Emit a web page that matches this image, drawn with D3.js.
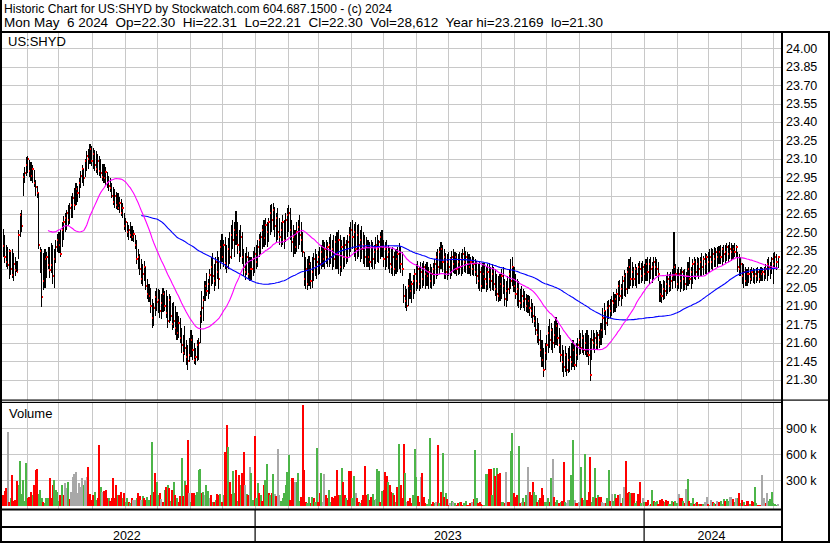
<!DOCTYPE html>
<html><head><meta charset="utf-8">
<script src="https://cdn.jsdelivr.net/npm/d3@7"></script>
<style>
html,body{margin:0;padding:0;background:#fff;}
svg{display:block;font-family:"Liberation Sans",Arial,sans-serif;}
text{white-space:pre;}
</style></head><body>
<svg id="c" width="830" height="543"></svg>
<script>
const titleLine = "Historic Chart for US:SHYD by Stockwatch.com 604.687.1500 - (c) 2024";
const infoLine = "Mon May  6 2024  Op=22.30  Hi=22.31  Lo=22.21  Cl=22.30  Vol=28,612  Year hi=23.2169  lo=21.30";
const symbol = "US:SHYD";
const priceTicks = [24.00,23.85,23.70,23.55,23.40,23.25,23.10,22.95,22.80,22.65,22.50,22.35,22.20,22.05,21.90,21.75,21.60,21.45,21.30];
const volTicks = [300,600,900];
const volTickLabels = ["300 k","600 k","900 k"];
const years = ["2022","2023","2024"];
const yearStarts = ["2023-01-01","2024-01-01"];
const firstMonth = "2022-06-01", lastMonth = "2024-05-01";

// daily bars, May 2022 .. May 6 2024
const high = [
22.53,22.48,22.40,22.38,22.36, 22.34,22.36,22.33,22.30,22.27, 22.52,22.66,22.68,22.98,23.03, 23.11,23.12,23.09,23.07,23.05,
23.01,22.93,22.88,22.82,22.38, 22.36,22.33,22.36,22.34,22.38, 22.38,22.41,22.40,22.36,22.44, 22.49,22.50,22.52,22.58,22.63,
22.66,22.68,22.72,22.74,22.80, 22.82,22.86,22.90,22.88,22.94, 23.00,23.05,23.02,23.10,23.16, 23.18,23.22,23.20,23.19,23.17,
23.16,23.14,23.12,23.10,23.06, 23.06,23.03,22.99,22.96,22.94, 22.90,22.87,22.85,22.83,22.82, 22.79,22.77,22.74,22.66,22.62,
22.58,22.56,22.58,22.55,22.52, 22.48,22.44,22.36,22.32,22.28, 22.24,22.27,22.22,22.12,22.08, 22.05,21.96,21.92,22.02,22.05,
22.04,22.03,22.00,22.05,22.02, 22.03,21.98,22.00,21.98,21.92, 21.93,21.90,21.85,21.82,21.80, 21.72,21.66,21.74,21.62,21.58,
21.64,21.70,21.66,21.60,21.56, 21.62,21.64,21.86,22.02,21.98, 22.10,22.17,22.12,22.20,22.30, 22.33,22.24,22.30,22.35,22.30,
22.44,22.49,22.44,22.46,22.40, 22.45,22.50,22.56,22.60,22.58, 22.67,22.58,22.52,22.56,22.50, 22.36,22.33,22.38,22.34,22.30,
22.30,22.35,22.38,22.40,22.44, 22.49,22.50,22.56,22.60,22.62, 22.58,22.62,22.72,22.73,22.74, 22.71,22.66,22.70,22.62,22.58,
22.64,22.60,22.66,22.70,22.72, 22.70,22.60,22.56,22.52,22.58, 22.60,22.64,22.58,22.50,22.34, 22.30,22.28,22.31,22.26,22.30,
22.33,22.36,22.32,22.35,22.38, 22.40,22.44,22.42,22.44,22.42, 22.46,22.49,22.44,22.48,22.47, 22.50,22.52,22.48,22.44,22.46,
22.46,22.44,22.48,22.54,22.58, 22.60,22.57,22.58,22.56,22.57, 22.52,22.55,22.50,22.48,22.46, 22.44,22.42,22.44,22.42,22.40,
22.46,22.48,22.44,22.50,22.52, 22.44,22.42,22.44,22.40,22.38, 22.36,22.38,22.34,22.36,22.38, 22.41,22.38,22.34,22.08,22.06,
22.04,22.12,22.17,22.10,22.15, 22.20,22.24,22.27,22.22,22.26, 22.25,22.27,22.24,22.26,22.22, 22.24,22.22,22.25,22.28,22.34,
22.36,22.38,22.42,22.40,22.36, 22.33,22.32,22.34,22.30,22.35, 22.36,22.34,22.33,22.32,22.34, 22.33,22.36,22.38,22.35,22.34,
22.32,22.30,22.31,22.30,22.28, 22.27,22.24,22.26,22.22,22.25, 22.25,22.22,22.24,22.25,22.22, 22.24,22.22,22.20,22.16,22.14,
22.16,22.20,22.22,22.12,22.10, 22.14,22.20,22.28,22.30,22.22, 22.16,22.12,22.10,22.04,22.06, 22.04,22.02,22.00,21.99,21.98,
21.96,21.92,21.90,21.82,21.80, 21.76,21.70,21.62,21.56,21.60, 21.66,21.74,21.79,21.76,21.72, 21.78,21.81,21.76,21.72,21.66,
21.58,21.54,21.57,21.52,21.56, 21.57,21.60,21.62,21.58,21.60, 21.64,21.70,21.68,21.70,21.66, 21.68,21.70,21.66,21.64,21.70,
21.70,21.68,21.70,21.69,21.70, 21.76,21.88,21.92,21.86,21.94, 21.95,21.96,21.98,22.01,22.00, 22.04,22.10,22.11,22.08,22.14,
22.19,22.17,22.22,22.28,22.30, 22.26,22.22,22.24,22.22,22.25, 22.27,22.25,22.27,22.24,22.28, 22.30,22.28,22.30,22.26,22.30,
22.30,22.28,22.26,22.10,22.08, 22.11,22.10,22.14,22.18,22.16, 22.18,22.20,22.50,22.24,22.20, 22.22,22.20,22.22,22.19,22.20,
22.18,22.26,22.30,22.22,22.28, 22.30,22.28,22.30,22.29,22.30, 22.33,22.31,22.33,22.32,22.34, 22.36,22.37,22.36,22.38,22.37,
22.38,22.39,22.40,22.38,22.40, 22.40,22.41,22.40,22.42,22.41, 22.40,22.41,22.40,22.34,22.32, 22.30,22.25,22.24,22.22,22.20,
22.22,22.20,22.22,22.21,22.20, 22.21,22.22,22.20,22.22,22.21, 22.22,22.24,22.28,22.30,22.26, 22.30,22.33,22.34,22.32,22.31];
const low = [
22.30,22.25,22.22,22.20,22.12, 22.15,22.13,22.10,22.14,22.18, 22.28,22.46,22.50,22.80,22.90, 22.96,22.98,22.95,22.92,22.90,
22.87,22.80,22.78,22.36,22.17, 21.89,22.03,22.05,22.13,22.20, 22.13,22.17,22.08,22.05,22.25, 22.34,22.33,22.30,22.38,22.44,
22.50,22.52,22.55,22.57,22.62, 22.62,22.68,22.72,22.75,22.78, 22.86,22.90,22.88,22.95,23.00, 23.02,23.06,23.04,23.02,23.00,
22.98,22.97,22.96,22.94,22.92, 22.90,22.88,22.86,22.84,22.83, 22.78,22.72,22.70,22.69,22.68, 22.66,22.63,22.62,22.52,22.50,
22.46,22.44,22.45,22.43,22.42, 22.36,22.24,22.20,22.15,22.08, 22.06,22.10,22.03,21.96,21.93, 21.84,21.72,21.74,21.82,21.86,
21.84,21.80,21.79,21.85,21.86, 21.80,21.72,21.76,21.78,21.70, 21.72,21.66,21.62,21.64,21.60, 21.52,21.44,21.50,21.42,21.38,
21.44,21.48,21.46,21.43,21.42, 21.45,21.46,21.60,21.76,21.78, 21.94,21.98,21.96,22.00,22.06, 22.08,22.02,22.06,22.12,22.04,
22.20,22.26,22.22,22.20,22.17, 22.20,22.24,22.28,22.36,22.30, 22.40,22.32,22.26,22.30,22.24, 22.14,22.11,22.15,22.12,22.10,
22.11,22.14,22.17,22.20,22.22, 22.30,22.32,22.36,22.38,22.40, 22.38,22.42,22.48,22.50,22.52, 22.46,22.42,22.44,22.40,22.38,
22.40,22.36,22.42,22.46,22.50, 22.44,22.34,22.30,22.32,22.34, 22.36,22.40,22.34,22.30,22.06, 22.04,22.03,22.06,22.04,22.05,
22.10,22.14,22.12,22.15,22.16, 22.20,22.22,22.20,22.24,22.22, 22.22,22.24,22.19,22.22,22.20, 22.20,22.16,22.14,22.18,22.20,
22.22,22.24,22.26,22.30,22.34, 22.36,22.30,22.27,22.28,22.30, 22.26,22.28,22.24,22.22,22.22, 22.22,22.19,22.22,22.20,22.20,
22.24,22.26,22.25,22.28,22.30, 22.22,22.19,22.22,22.20,22.17, 22.16,22.14,22.14,22.16,22.18, 22.20,22.17,22.14,21.92,21.88,
21.86,21.90,21.96,21.92,21.96, 22.00,22.02,22.04,22.02,22.04, 22.05,22.06,22.04,22.06,22.04, 22.05,22.04,22.06,22.08,22.12,
22.14,22.16,22.20,22.18,22.12, 22.12,22.11,22.14,22.12,22.14, 22.17,22.16,22.14,22.15,22.16, 22.14,22.16,22.18,22.17,22.16,
22.16,22.14,22.15,22.14,22.14, 22.08,22.04,22.02,22.01,22.04, 22.04,22.01,22.03,22.05,22.02, 22.03,22.02,21.98,21.94,21.93,
21.94,21.96,22.00,21.90,21.89, 21.94,22.00,22.04,22.06,22.01, 21.96,21.90,21.88,21.87,21.88, 21.88,21.86,21.85,21.84,21.82,
21.80,21.76,21.73,21.66,21.60, 21.58,21.48,21.40,21.32,21.38, 21.46,21.52,21.56,21.54,21.52, 21.56,21.58,21.57,21.52,21.44,
21.36,21.32,21.36,21.33,21.35, 21.36,21.38,21.40,21.38,21.40, 21.46,21.50,21.51,21.52,21.50, 21.50,21.48,21.42,21.29,21.46,
21.54,21.52,21.55,21.54,21.56, 21.58,21.64,21.70,21.66,21.74, 21.79,21.80,21.82,21.84,21.85, 21.88,21.90,21.94,21.90,21.96,
21.98,21.97,22.00,22.04,22.06, 22.05,22.06,22.06,22.05,22.08, 22.08,22.09,22.10,22.08,22.10, 22.10,22.08,22.12,22.09,22.12,
22.14,22.14,22.10,21.93,21.92, 21.95,21.96,21.98,22.00,22.01, 22.02,22.04,22.10,22.05,22.02, 22.04,22.01,22.04,22.02,22.03,
22.03,22.06,22.08,22.04,22.08, 22.12,22.11,22.14,22.12,22.14, 22.14,22.15,22.16,22.15,22.17, 22.18,22.20,22.19,22.22,22.22,
22.22,22.24,22.24,22.23,22.26, 22.25,22.27,22.26,22.28,22.27, 22.28,22.30,22.29,22.18,22.14, 22.14,22.08,22.05,22.06,22.06,
22.09,22.08,22.10,22.09,22.08, 22.09,22.10,22.09,22.10,22.10, 22.10,22.12,22.10,22.14,22.12, 22.16,22.08,22.20,22.19,22.21];
const close = [
22.39,22.30,22.26,22.23,22.35, 22.20,22.15,22.24,22.19,22.18, 22.48,22.64,22.55,22.95,22.98, 23.05,23.10,23.00,22.96,23.02,
22.90,22.87,22.82,22.40,22.35, 21.97,22.10,22.28,22.30,22.23, 22.19,22.23,22.14,22.28,22.38, 22.44,22.40,22.32,22.52,22.58,
22.62,22.66,22.60,22.70,22.72, 22.78,22.72,22.85,22.82,22.90, 22.96,23.02,22.94,23.08,23.12, 23.10,23.18,23.08,23.14,23.05,
23.02,23.08,23.00,22.98,22.95, 22.94,22.99,22.90,22.88,22.86, 22.80,22.75,22.80,22.72,22.70, 22.74,22.66,22.70,22.55,22.58,
22.50,22.52,22.48,22.46,22.49, 22.40,22.28,22.30,22.20,22.12, 22.16,22.22,22.06,22.00,21.98, 21.90,21.80,21.88,21.97,21.93,
21.95,21.86,21.92,22.00,21.90, 21.84,21.78,21.95,21.82,21.75, 21.78,21.72,21.68,21.76,21.64, 21.58,21.52,21.56,21.48,21.45,
21.50,21.62,21.54,21.46,21.48, 21.58,21.60,21.82,21.88,21.95, 22.06,22.02,22.08,22.15,22.22, 22.14,22.10,22.26,22.18,22.12,
22.38,22.30,22.40,22.25,22.22, 22.36,22.30,22.48,22.44,22.52, 22.48,22.40,22.34,22.46,22.30, 22.22,22.18,22.30,22.16,22.20,
22.20,22.28,22.32,22.26,22.38, 22.44,22.46,22.52,22.45,22.56, 22.50,22.58,22.66,22.60,22.68, 22.55,22.62,22.50,22.46,22.52,
22.58,22.44,22.60,22.64,22.66, 22.52,22.42,22.46,22.38,22.50, 22.54,22.48,22.44,22.34,22.12, 22.20,22.08,22.24,22.10,22.18,
22.28,22.22,22.26,22.30,22.24, 22.34,22.28,22.36,22.30,22.38, 22.40,22.30,22.36,22.28,22.42, 22.32,22.44,22.22,22.38,22.30,
22.40,22.30,22.42,22.48,22.52, 22.46,22.50,22.36,22.48,22.40, 22.44,22.36,22.40,22.30,22.38, 22.30,22.26,22.38,22.28,22.34,
22.40,22.36,22.42,22.46,22.38, 22.28,22.36,22.30,22.34,22.24, 22.22,22.30,22.20,22.28,22.32, 22.34,22.24,22.20,21.98,21.94,
21.90,22.06,22.02,22.08,22.10, 22.16,22.10,22.20,22.08,22.18, 22.12,22.22,22.16,22.14,22.18, 22.10,22.16,22.20,22.24,22.30,
22.22,22.34,22.36,22.26,22.30, 22.18,22.26,22.22,22.28,22.30, 22.24,22.30,22.20,22.26,22.22, 22.28,22.32,22.26,22.30,22.24,
22.22,22.26,22.20,22.24,22.18, 22.14,22.10,22.18,22.06,22.16, 22.12,22.08,22.18,22.12,22.10, 22.16,22.08,22.04,22.00,21.98,
22.08,22.14,22.06,21.96,22.02, 22.04,22.16,22.10,22.22,22.06, 22.00,22.04,21.94,21.92,21.98, 21.94,21.96,21.90,21.94,21.88,
21.86,21.82,21.78,21.70,21.66, 21.62,21.54,21.46,21.38,21.52, 21.58,21.68,21.62,21.70,21.60, 21.66,21.74,21.64,21.58,21.50,
21.44,21.40,21.50,21.38,21.46, 21.48,21.44,21.54,21.42,21.50, 21.58,21.62,21.56,21.64,21.54, 21.60,21.52,21.50,21.34,21.62,
21.60,21.64,21.58,21.66,21.62, 21.70,21.80,21.86,21.76,21.88, 21.90,21.86,21.94,21.92,21.96, 22.00,22.06,21.98,22.04,22.10,
22.14,22.04,22.18,22.22,22.12, 22.18,22.12,22.20,22.16,22.22, 22.20,22.14,22.22,22.16,22.24, 22.18,22.24,22.20,22.22,22.26,
22.22,22.20,22.16,22.00,21.98, 22.04,22.02,22.08,22.12,22.06, 22.10,22.14,22.22,22.16,22.08, 22.16,22.10,22.18,22.12,22.08,
22.14,22.20,22.12,22.18,22.24, 22.26,22.18,22.24,22.20,22.26, 22.22,22.28,22.24,22.30,22.26, 22.30,22.26,22.32,22.28,22.34,
22.30,22.34,22.30,22.36,22.32, 22.34,22.38,22.32,22.36,22.34, 22.36,22.34,22.38,22.22,22.20, 22.24,22.14,22.18,22.10,22.16,
22.16,22.12,22.18,22.14,22.16, 22.14,22.18,22.12,22.16,22.18, 22.16,22.20,22.24,22.22,22.20, 22.28,22.24,22.30,22.26,22.30];
// volume in thousands of shares
const volumeK = [
130,177,207,852,53,92,361,60,73,292, 246,523,137,304,60,496,100,111,161,130, 246,419,430,137,188,92,50,40,92,92,
323,92,246,304,188,169,60,130,246,130, 265,207,284,80,169,342,369,400,150,265, 227,323,246,304,342,457,137,70,130,169,
73,92,707,227,169,177,188,92,92,60, 92,323,92,246,130,130,169,92,150,50, 92,50,40,92,73,73,92,150,122,73,
118,92,73,111,73,130,746,169,388,284, 130,150,84,53,188,227,246,207,60,188, 276,130,92,45,118,554,118,296,246,765,
150,50,157,150,130,169,419,430,150,169, 130,246,177,92,130,50,45,73,137,130, 137,50,130,622,938,688,284,137,408,150,
419,60,361,246,380,630,246,137,130,457, 388,73,811,92,273,150,130,60,246,304, 485,150,130,150,373,142,118,661,130,60,
92,150,246,400,592,73,323,331,284,276, 384,60,111,1169,419,50,40,111,35,111, 92,50,676,53,150,380,53,373,130,92,
188,45,111,92,122,419,130,130,446,284, 130,92,73,408,408,92,354,150,92,53, 40,73,130,469,130,137,73,111,137,73,
84,430,408,50,177,188,392,354,276,246, 169,157,130,50,227,719,246,92,715,388, 53,60,92,35,130,657,342,118,53,342,
380,103,40,27,80,792,27,53,35,45, 707,40,169,611,111,157,80,15,35,60, 45,35,15,35,45,53,15,35,60,20,
15,35,53,80,649,92,35,53,25,15, 15,369,369,430,430,130,438,350,446,369, 380,53,53,40,400,53,53,638,850,150,
111,130,692,40,53,92,53,130,457,169, 130,284,169,130,53,73,92,207,130,50, 53,92,53,323,546,111,53,73,35,53,
60,515,53,35,73,73,361,765,73,40, 35,45,457,92,73,600,73,169,573,50, 111,446,92,130,111,111,53,35,35,92,
419,60,137,60,137,92,130,137,40,100, 227,523,150,161,150,150,150,35,60,142, 276,40,100,45,53,73,15,30,188,60,
53,60,25,73,84,60,53,73,60,25, 30,60,53,60,35,137,92,100,60,40, 196,311,60,35,92,25,35,45,25,30,
25,30,53,111,30,15,73,53,35,30, 60,45,60,30,80,60,80,60,111,111, 80,45,92,92,157,40,73,53,15,60,
60,30,60,45,223,35,15,15,15,361, 92,40,150,60,80,169,35,25,20,28.6];
// r = down day, g = up day, n = unchanged
const volumeDir = [
"rrrnrgrrrr","ggggggrrrg","rrrgggrggg","rrrggggrgr","nngrnnnnnn","nngnnrrrrg","grrgnrrrgr","rrrrgrrgrg","grgrnngrrn","grrggrgrrg",
"grnrgrgrgr","grgrrgrgrr","ngrrggggrg","nggnrgrgrr","grgrrgrrgg","rgrgrrngrn","ggrggrgrrg","grgrgnrnng","gggggrrrng","ggrrrrggrg",
"rggrrgnnrr","ggrrrrrggr","rgrrrggnrr","grrrrgrrgg","nggrgrrrgr","rgrgrgrrrg","nrrrgggrrn","rrrgggrrgn","rgrgrgrrng","ngrrgrrggr",
"rrnrggrrrr","gggrrggrgr","rggrnrrggr","rrgrngrgnr","rrggrgrrrg","ggrgnrggrg","rrgnngggnr","rngrggrrrg","ggrgrrnnrg","grnggrrnrg",
"nrrrgrrggr","rgngrrnrgr","ggrrrrgrrg","ggrggnrrgr","ngrggrgrgr","rgnnrgnrgr","nrgggrggnn","rgngrgrgrr","rgrrggrrrn","nrnggggggn"].join("");

const N = close.length;
const svg = d3.select("#c");
svg.append("rect").attr("width",830).attr("height",543).attr("fill","#fff");

const L = 2, R = 782, PT = 33, PB = 399.5, VT = 402, VB = 508.5;
const x = d3.scaleLinear().domain([0, N-1]).range([3, 778]);
const t = d3.scaleTime().domain([new Date(firstMonth+"T00:00"), new Date(lastMonth+"T00:00")]).range([26.5, 773]);
const yP = d3.scaleLinear().domain([21.30, 24.00]).range([379.5, 48.3]);
const yV = d3.scaleLinear().domain([0, 1200]).range([506.3, 402.3]);
const months = d3.timeMonth.range(new Date(firstMonth+"T00:00"), new Date("2024-05-02T00:00"));
const grid = "#c8c8c8";

// price gridlines
const gP = svg.append("g").attr("transform",`translate(${R},0)`)
  .call(d3.axisLeft(yP).tickValues(priceTicks).tickSize(R-L).tickFormat(""));
gP.select(".domain").remove();
gP.selectAll("line").attr("stroke",grid).attr("shape-rendering","crispEdges");
// volume gridlines
const gV = svg.append("g").attr("transform",`translate(${R},0)`)
  .call(d3.axisLeft(yV).tickValues(volTicks).tickSize(R-L).tickFormat(""));
gV.select(".domain").remove();
gV.selectAll("line").attr("stroke",grid).attr("shape-rendering","crispEdges");
// month gridlines (both panels)
[[PT, PB],[VT, VB]].forEach(([a,b])=>{
  const g = svg.append("g").attr("transform",`translate(0,${a})`)
    .call(d3.axisBottom(t).tickValues(months).tickSize(b-a).tickFormat(""));
  g.select(".domain").remove();
  g.selectAll("line").attr("stroke",grid).attr("shape-rendering","crispEdges");
});

// volume bars
const vCol = {r:"#ff0000", g:"#4cb548", n:"#a8a8a8"};
svg.append("g").attr("shape-rendering","crispEdges").selectAll("rect").data(volumeK).join("rect")
  .attr("x",(d,i)=>x(i)-1).attr("width",2)
  .attr("y",d=>yV(d)).attr("height",d=>yV(0)-yV(d))
  .attr("fill",(d,i)=>vCol[volumeDir[i]]);

// price bars with close ticks
const bars = svg.append("g").attr("shape-rendering","crispEdges").selectAll("g").data(d3.range(N)).join("g");
bars.append("rect").attr("x",i=>x(i)-0.5).attr("width",1.1)
  .attr("y",i=>yP(high[i])).attr("height",i=>Math.max(1,yP(low[i])-yP(high[i]))).attr("fill","#000");
bars.append("rect").attr("x",i=>x(i)-0.1).attr("width",1.6)
  .attr("y",i=>yP(close[i])-1).attr("height",2).attr("fill","#ff0000");

// moving averages of the close
function sma(n){ const out=[]; for(let i=n-1;i<N;i++) out.push([i, d3.mean(close.slice(i-n+1,i+1))]); return out; }
const line = d3.line().x(d=>x(d[0])).y(d=>yP(d[1]));
svg.append("path").attr("d",line(sma(90))).attr("fill","none").attr("stroke","#0000ff").attr("stroke-width",1.1);
svg.append("path").attr("d",line(sma(30))).attr("fill","none").attr("stroke","#ff00ff").attr("stroke-width",1.1);

// frame
const blk = (x0,y0,w,h)=>svg.append("rect").attr("x",x0).attr("y",y0).attr("width",w).attr("height",h).attr("fill","#000");
blk(0,31,830,2);          // under header
blk(0,0,2,543);           // left
blk(828,31,2,512);        // right
blk(781,31,2,512);        // axis separator
blk(0,399.5,830,1.2);
blk(0,401.8,781,1.2);
blk(0,508.5,781,2);
blk(0,526,781,2);
blk(0,541,830,2);
yearStarts.forEach(s=>{ const xx = Math.round(t(new Date(s+"T00:00"))); blk(xx-0.5,509,1.2,33); });

// texts
const txt = (s,x0,y0,size,anchor)=>svg.append("text").attr("x",x0).attr("y",y0).attr("font-size",size)
  .attr("text-anchor",anchor||"start").attr("fill","#000").text(s);
txt(titleLine,4,13,13).attr("textLength",388).attr("lengthAdjust","spacingAndGlyphs");
txt(infoLine,4,27,13).attr("textLength",599).attr("lengthAdjust","spacingAndGlyphs");
txt(symbol,8,46,13);
txt("Volume",9,418,13);

const ax = svg.append("g").attr("transform","translate(786,0)")
  .call(d3.axisRight(yP).tickValues(priceTicks).tickSize(0).tickPadding(0).tickFormat(d3.format(".2f")));
ax.select(".domain").remove();
ax.selectAll("text").attr("font-size",12.5).attr("font-family","Liberation Sans, Arial, sans-serif").attr("fill","#000");
const axv = svg.append("g").attr("transform","translate(786,0)")
  .call(d3.axisRight(yV).tickValues(volTicks).tickSize(0).tickPadding(0).tickFormat((d,i)=>volTickLabels[i]));
axv.select(".domain").remove();
axv.selectAll("text").attr("font-size",12.5).attr("font-family","Liberation Sans, Arial, sans-serif").attr("fill","#000");

const bounds = [L, ...yearStarts.map(s=>t(new Date(s+"T00:00"))), R];
years.forEach((y,k)=>txt(y,(bounds[k]+bounds[k+1])/2-1.5,539.5,12.5,"middle"));
</script>
</body></html>
